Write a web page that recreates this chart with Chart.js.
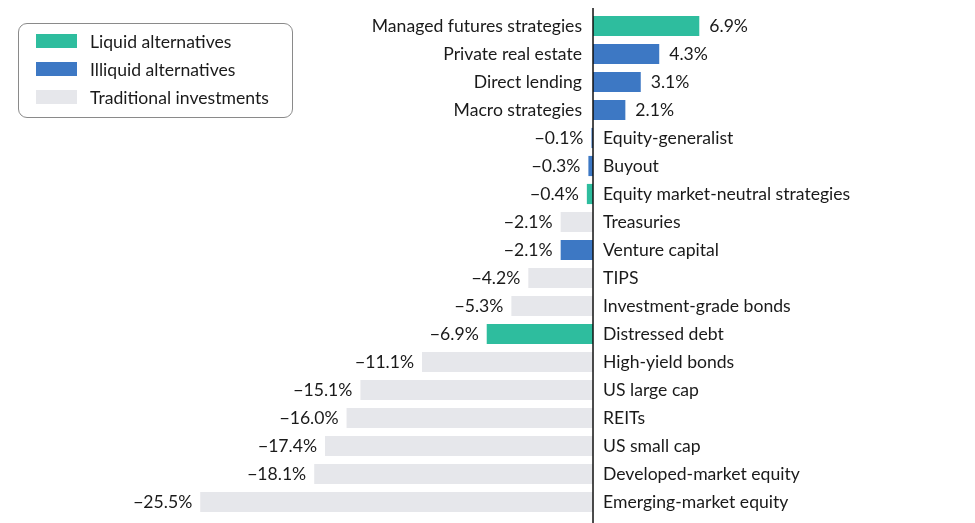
<!DOCTYPE html>
<html>
<head>
<meta charset="utf-8">
<script src="https://cdn.jsdelivr.net/npm/chart.js@4"></script>
<style>
  body { margin: 0; background: #fff; }
  #wrap { position: relative; width: 975px; height: 523px; }
  #legend {
    position: absolute; left: 18px; top: 23px; width: 275px; height: 95px;
    border: 1px solid #8a8a8a; border-radius: 9px; box-sizing: border-box;
    font-family: Lato, sans-serif; font-size: 17.6px; color: #1a1a1a;
  }
  #legend .row { position: absolute; left: 17px; height: 16px; display: flex; align-items: center; }
  #legend .sw { width: 41px; height: 14px; margin-right: 13px; }
</style>
</head>
<body>
<div id="wrap">
  <canvas id="chart" width="975" height="523"></canvas>
  <div id="legend"></div>
</div>
<script>
const categories = [
  'Managed futures strategies', 'Private real estate', 'Direct lending', 'Macro strategies',
  'Equity-generalist', 'Buyout', 'Equity market-neutral strategies', 'Treasuries',
  'Venture capital', 'TIPS', 'Investment-grade bonds', 'Distressed debt',
  'High-yield bonds', 'US large cap', 'REITs', 'US small cap',
  'Developed-market equity', 'Emerging-market equity'
];
const values = [6.9, 4.3, 3.1, 2.1, -0.1, -0.3, -0.4, -2.1, -2.1, -4.2, -5.3, -6.9, -11.1, -15.1, -16.0, -17.4, -18.1, -25.5];
const groups = ['liquid', 'illiquid', 'illiquid', 'illiquid', 'illiquid', 'illiquid', 'liquid', 'traditional',
  'illiquid', 'traditional', 'traditional', 'liquid', 'traditional', 'traditional', 'traditional',
  'traditional', 'traditional', 'traditional'];
const groupNames = { liquid: 'Liquid alternatives', illiquid: 'Illiquid alternatives', traditional: 'Traditional investments' };
const groupColors = { liquid: '#2ebd9e', illiquid: '#3d78c4', traditional: '#e6e7eb' };

const FONT = '17.6px Lato, sans-serif';

// legend
const legendEl = document.getElementById('legend');
Object.keys(groupNames).forEach((g, i) => {
  const row = document.createElement('div');
  row.className = 'row';
  row.style.top = (9 + i * 28) + 'px';
  row.innerHTML = `<span class="sw" style="background:${groupColors[g]}"></span>${groupNames[g]}`;
  legendEl.appendChild(row);
});

const fmt = v => (v < 0 ? '\u2212' : '') + Math.abs(v).toFixed(1) + '%';

const labelPlugin = {
  id: 'labels',
  afterDatasetsDraw(chart) {
    const ctx = chart.ctx;
    const meta = chart.getDatasetMeta(0);
    const zero = chart.scales.x.getPixelForValue(0);
    ctx.save();
    ctx.font = FONT;
    ctx.fillStyle = '#1a1a1a';
    ctx.textBaseline = 'middle';
    meta.data.forEach((bar, i) => {
      const v = values[i];
      const y = bar.y;
      if (v >= 0) {
        ctx.textAlign = 'right';
        ctx.fillText(categories[i], zero - 11, y);
        ctx.textAlign = 'left';
        ctx.fillText(fmt(v), bar.x + 10, y);
      } else {
        ctx.textAlign = 'left';
        ctx.fillText(categories[i], zero + 10, y);
        ctx.textAlign = 'right';
        ctx.fillText(fmt(v), bar.x - 8, y);
      }
    });
    // zero line
    ctx.strokeStyle = '#111';
    ctx.lineWidth = 1.5;
    ctx.beginPath();
    ctx.moveTo(zero, 8);
    ctx.lineTo(zero, chart.height);
    ctx.stroke();
    ctx.restore();
  }
};

new Chart(document.getElementById('chart'), {
  type: 'bar',
  data: {
    labels: categories,
    datasets: [{
      data: values,
      backgroundColor: groups.map(g => groupColors[g]),
      borderWidth: 0,
      barPercentage: 0.72,
      categoryPercentage: 1
    }]
  },
  options: {
    indexAxis: 'y',
    responsive: false,
    animation: false,
    layout: { padding: { top: 12, bottom: 7, left: 0, right: 0 } },
    plugins: { legend: { display: false }, tooltip: { enabled: false } },
    scales: {
      x: { display: false, min: -38.5, max: 24.8 },
      y: { display: false }
    }
  },
  plugins: [labelPlugin]
});
</script>
</body>
</html>
